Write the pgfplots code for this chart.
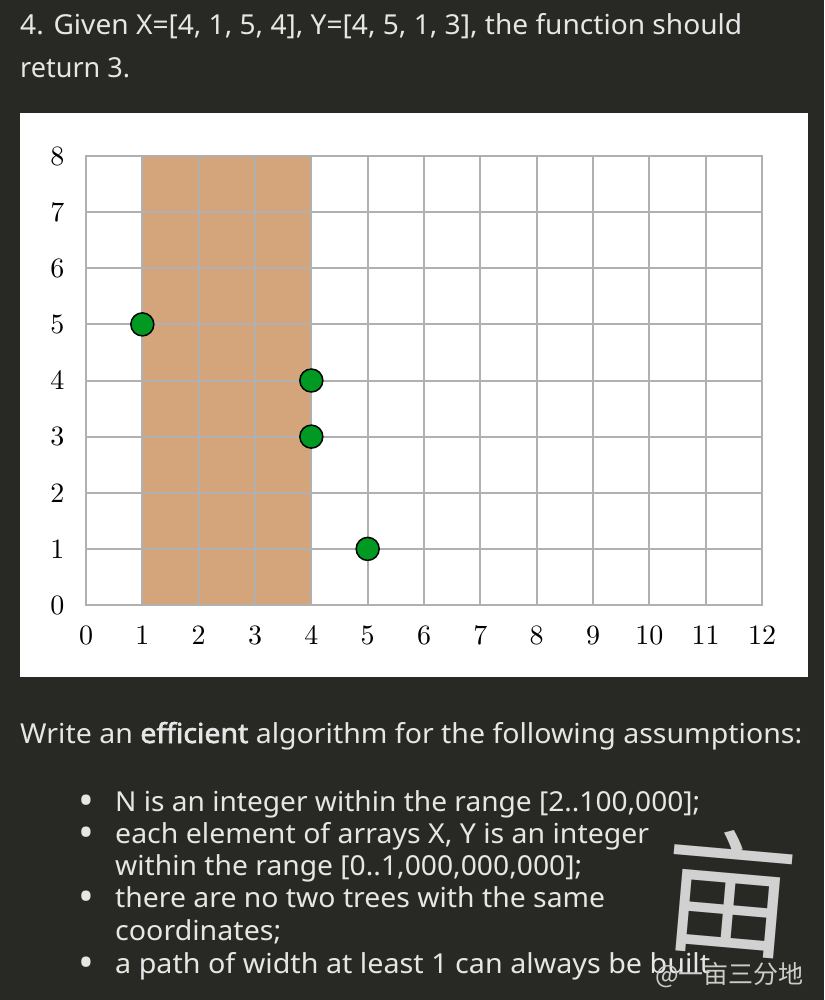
\documentclass[border=0pt]{standalone}
\usepackage{fontspec}
\usepackage{pgfplots}
\usepackage{graphicx}
\pgfplotsset{compat=1.18}
\newfontfamily\robo[AutoFakeBold=2.2]{Noto Sans}
\newfontfamily\cjk{Noto Sans CJK SC}
\newfontfamily\lmten{lmroman10-regular.otf}
\definecolor{bgdark}{HTML}{282824}
\definecolor{txt}{HTML}{E6E6E6}
\definecolor{band}{HTML}{D4A57B}
\definecolor{dotgreen}{HTML}{009A22}
\definecolor{gridgray}{HTML}{B0B0B0}
\newcommand{\fitline}[2]{\resizebox{#1pt}{\height}{#2}}
\begin{document}
\begin{tikzpicture}[x=1pt,y=1pt]
\fill[bgdark] (0,0) rectangle (824,-1000);
\fill[white] (20,-113) rectangle (808,-677);
\pgfplotsset{myax/.style={
  at={(86pt,-605pt)}, anchor=south west,
  scale only axis, width=676pt, height=449pt,
  xmin=0, xmax=12, ymin=0, ymax=8,
  xtick={0,...,12}, ytick={0,...,8},
}}
\begin{axis}[myax,
  axis on top,
  grid=major,
  major grid style={gridgray, line width=2pt},
  axis line style={gridgray, line width=2pt},
  major tick length=0pt,
  /pgf/number format/assume math mode=true,
  tick label style={font=\lmten\fontsize{28}{30}\selectfont, black},
  xticklabel style={yshift=-17pt},
  yticklabel style={xshift=-18pt},
]
\addplot[fill=band, draw=none] coordinates {(1,0) (1,8) (4,8) (4,0)} -- cycle;
\end{axis}
\begin{axis}[myax, hide axis, clip=false]
\addplot[only marks, mark=*, mark size=11.5pt,
  mark options={fill=dotgreen, draw=black, line width=1.5pt}]
  coordinates {(4,4) (1,5) (5,1) (4,3)};
\end{axis}
\begin{scope}[every node/.style={inner sep=0pt, text=txt, font=\robo\fontsize{27.5}{33}\selectfont}]
\node[anchor=base west] at (20,-35) {\fitline{722}{4. Given X=[4, 1, 5, 4], Y=[4, 5, 1, 3], the function should}};
\node[anchor=base west] at (20,-78) {\fitline{110}{return 3.}};
\node[anchor=base west] at (20,-743) {\fitline{782}{Write an \textbf{efficient} algorithm for the following assumptions:}};
\foreach \yy in {811,843,907,973} {\node[anchor=base, font=\robo\fontsize{42}{42}\selectfont] at (86,-\yy-4) {\textbullet};}
\node[anchor=base west] at (115,-811) {\fitline{585}{N is an integer within the range [2..100,000];}};
\node[anchor=base west] at (115,-843) {\fitline{534}{each element of arrays X, Y is an integer}};
\node[anchor=base west] at (115,-875) {\fitline{467}{within the range [0..1,000,000,000];}};
\node[anchor=base west] at (115,-907) {\fitline{490}{there are no two trees with the same}};
\node[anchor=base west] at (115,-940) {\fitline{166}{coordinates;}};
\node[anchor=base west] at (115,-973) {\fitline{595}{a path of width at least 1 can always be built}};
\end{scope}
\node[inner sep=0pt, text=white!82!black, font=\cjk\fontsize{135}{135}\selectfont, rotate=-5] at (730,-893) {亩};
\node[inner sep=0pt, anchor=base west, text=white!80!black, font=\cjk\fontsize{25}{25}\selectfont] at (655,-983) {@一亩三分地};
\end{tikzpicture}
\end{document}
